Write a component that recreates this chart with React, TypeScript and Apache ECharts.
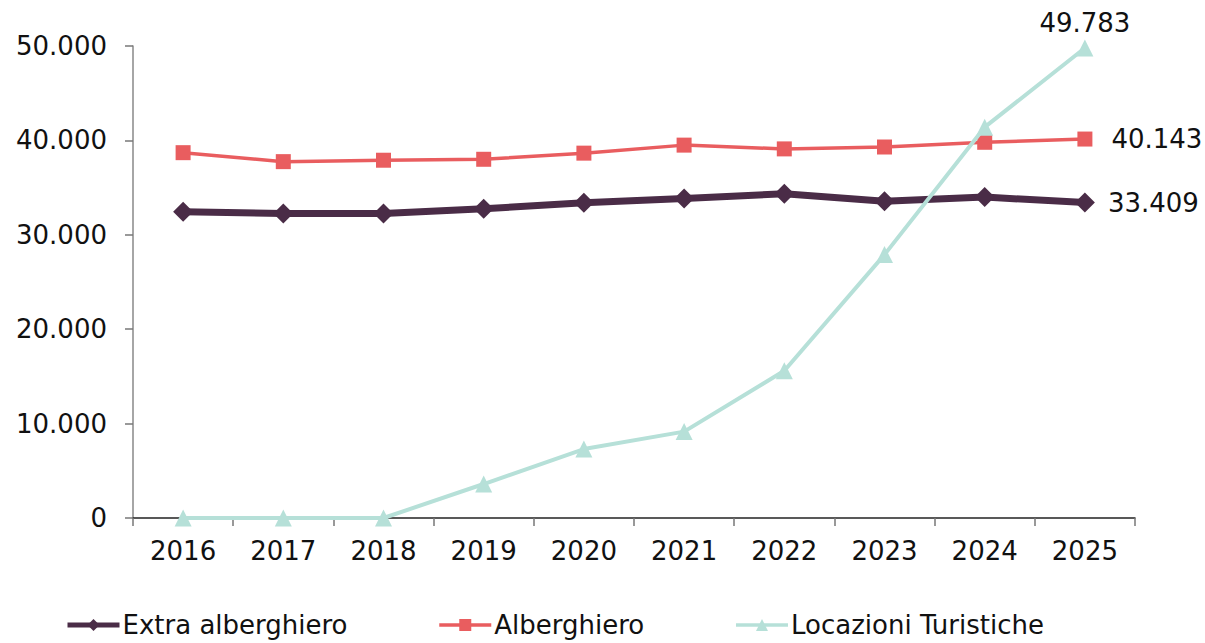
import React, { useEffect, useRef } from "react";
import * as echarts from "echarts";

const years = ["2016", "2017", "2018", "2019", "2020", "2021", "2022", "2023", "2024", "2025"];
const extraAlberghiero = [32450, 32250, 32250, 32750, 33400, 33850, 34350, 33550, 34000, 33409];
const alberghiero = [38700, 37750, 37900, 38000, 38650, 39500, 39100, 39300, 39800, 40143];
const locazioniTuristiche = [0, 0, 0, 3600, 7300, 9150, 15600, 27900, 41400, 49783];
const yTicks = { min: 0, max: 50000, interval: 10000 };

const fmt = (v: number) => String(Math.round(v)).replace(/\B(?=(\d{3})+(?!\d))/g, ".");
const FONT = "DejaVu Sans";
const FS = 26;
const DARK = "#4a2c47";
const RED = "#e95d5f";
const TEAL = "#b6e0d8";

export default function App() {
  const ref = useRef<HTMLDivElement>(null);
  useEffect(() => {
    if (!ref.current) return;
    const chart = echarts.init(ref.current, undefined, { renderer: "svg" });
    const lastIdx = years.length - 1;
    const lastLabel = (pos: string, dist: number) => ({
      show: true,
      position: pos,
      distance: dist,
      formatter: (p: any) => (p.dataIndex === lastIdx ? fmt(p.value) : ""),
      color: "#111",
      fontFamily: FONT,
      fontSize: FS,
    });
    chart.setOption({
      animation: false,
      textStyle: { fontFamily: FONT },
      grid: { left: 133, right: 70, top: 46, bottom: 125, containLabel: false },
      xAxis: {
        type: "category",
        data: years,
        boundaryGap: true,
        axisLine: { lineStyle: { color: "#222", width: 1.5 } },
        axisTick: { show: true, length: 8, lineStyle: { color: "#777", width: 1.5 } },
        axisLabel: { color: "#111", fontSize: FS, fontFamily: FONT, margin: 20 },
      },
      yAxis: {
        type: "value",
        min: yTicks.min,
        max: yTicks.max,
        interval: yTicks.interval,
        splitLine: { show: false },
        axisLine: { show: true, lineStyle: { color: "#888", width: 1.5 } },
        axisTick: { show: true, length: 8, lineStyle: { color: "#777", width: 1.5 } },
        axisLabel: { color: "#111", fontSize: FS, fontFamily: FONT, margin: 26, formatter: (v: number) => fmt(v) },
      },
      legend: {
        left: 60,
        top: 607,
        itemWidth: 52,
        itemHeight: 15,
        itemGap: 90,
        textStyle: { color: "#111", fontSize: FS, fontFamily: FONT, padding: [0, 0, 0, -2] },
        data: [
          { name: "Extra alberghiero", lineStyle: { width: 5, color: DARK }, itemStyle: { color: DARK } },
          { name: "Alberghiero", lineStyle: { width: 3.5, color: RED }, itemStyle: { color: RED } },
          { name: "Locazioni Turistiche", lineStyle: { width: 3.5, color: TEAL }, itemStyle: { color: TEAL } },
        ],
      },
      series: [
        {
          name: "Extra alberghiero",
          type: "line",
          data: extraAlberghiero,
          symbol: "diamond",
          symbolSize: 20,
          color: DARK,
          lineStyle: { color: DARK, width: 7 },
          itemStyle: { color: DARK },
          label: lastLabel("right", 13),
          z: 3,
        },
        {
          name: "Alberghiero",
          type: "line",
          data: alberghiero,
          symbol: "rect",
          symbolSize: 15,
          color: RED,
          lineStyle: { color: RED, width: 3.5 },
          itemStyle: { color: RED },
          label: lastLabel("right", 19),
          z: 2,
        },
        {
          name: "Locazioni Turistiche",
          type: "line",
          data: locazioniTuristiche,
          symbol: "triangle",
          symbolSize: 17,
          color: TEAL,
          lineStyle: { color: TEAL, width: 4 },
          itemStyle: { color: TEAL },
          label: lastLabel("top", 4),
          z: 4,
        },
      ],
    });
    return () => chart.dispose();
  }, []);
  return <div ref={ref} style={{ width: 1205, height: 643, position: "absolute", left: 0, top: 0 }} />;
}
